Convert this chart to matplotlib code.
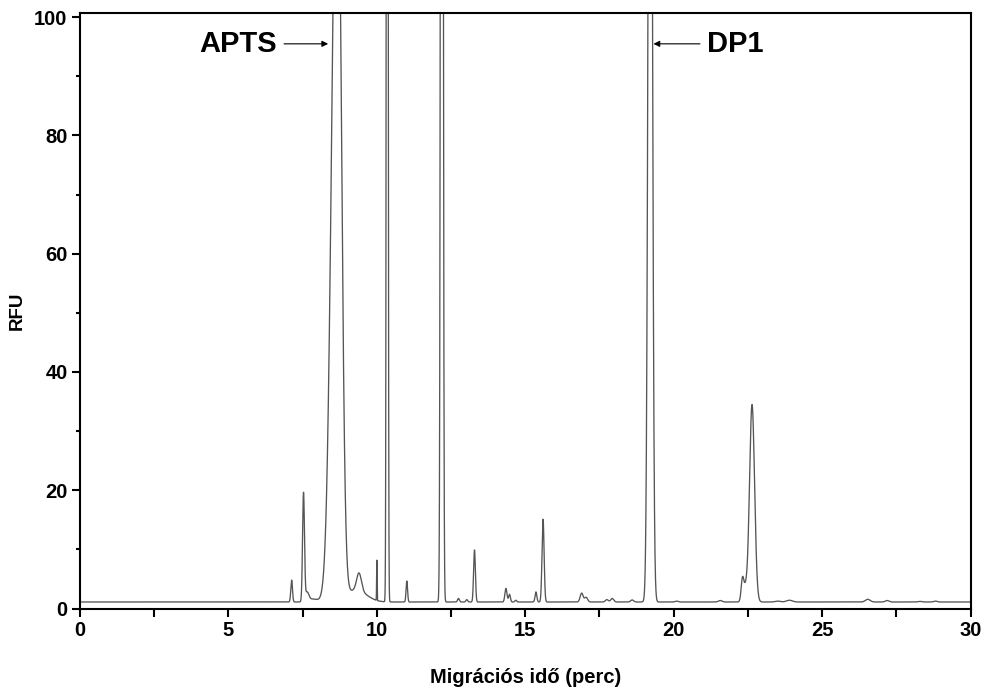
import matplotlib

matplotlib.use("Agg")
import matplotlib.pyplot as plt
import matplotlib.ticker as mtick
import numpy as np

# peak table (minutes, RFU above baseline, sigma left/right in minutes)
peak_time = [7.13, 7.53, 7.65, 7.85, 8.67, 9.30, 9.40, 10.00, 10.35, 11.01,
             12.19, 12.75, 13.03, 13.29, 14.35, 14.47, 14.68, 15.36, 15.60, 16.90,
             17.05, 17.75, 17.93, 18.60, 19.21, 20.10, 21.57, 22.32, 22.42, 22.64,
             23.50, 23.90, 26.54, 27.19, 28.30, 28.82]
peak_height = [3.7, 18.3, 1.5, 0.5, 140.0, 2.0, 3.0, 6.8, 400.0, 3.55,
               450.0, 0.6, 0.4, 8.8, 2.3, 1.3, 0.3, 1.7, 14.0, 1.5,
               0.8, 0.4, 0.6, 0.35, 214.0, 0.15, 0.25, 4.0, 2.0, 33.4,
               0.15, 0.3, 0.45, 0.25, 0.1, 0.15]
sigma_left = [0.028, 0.032, 0.06, 0.15, 0.18, 0.35, 0.08, 0.008, 0.022, 0.025,
              0.032, 0.03, 0.03, 0.03, 0.035, 0.03, 0.03, 0.03, 0.035, 0.05,
              0.05, 0.05, 0.05, 0.05, 0.063, 0.05, 0.06, 0.045, 0.05, 0.085,
              0.08, 0.1, 0.08, 0.06, 0.06, 0.06]
sigma_right = [0.028, 0.032, 0.06, 0.15, 0.13, 0.35, 0.08, 0.008, 0.022, 0.025,
               0.032, 0.03, 0.03, 0.03, 0.035, 0.03, 0.03, 0.03, 0.035, 0.05,
               0.05, 0.05, 0.05, 0.05, 0.063, 0.05, 0.06, 0.045, 0.05, 0.085,
               0.08, 0.1, 0.08, 0.06, 0.06, 0.06]
baseline = 1.1

labels = ["APTS", "DP1"]
label_y = 95.5

FONT = "Liberation Sans"

t = np.linspace(0, 30, 30001)
signal = np.full_like(t, baseline)
for pos, h, sl, sr in zip(peak_time, peak_height, sigma_left, sigma_right):
    s = np.where(t < pos, sl, sr)
    signal += h * np.exp(-0.5 * ((t - pos) / s) ** 2)

fig = plt.figure(figsize=(9.84, 6.89), dpi=100)
ax = fig.add_axes([80 / 984, 80.5 / 689, 890.5 / 984, 596 / 689])
ax.plot(t, signal, color="#555555", linewidth=0.95)

ax.set_xlim(0, 30)
ax.set_ylim(0, 100.8)
ax.xaxis.set_major_locator(mtick.MultipleLocator(5))
ax.xaxis.set_minor_locator(mtick.MultipleLocator(2.5))
ax.yaxis.set_major_locator(mtick.MultipleLocator(20))
ax.yaxis.set_minor_locator(mtick.MultipleLocator(10))
ax.tick_params(axis="both", which="major", direction="out", length=6, width=1.5, pad=3)
ax.tick_params(axis="x", which="minor", direction="out", length=6, width=1.5)
ax.tick_params(axis="y", which="minor", direction="out", length=3.2, width=1.5)
for lab in ax.get_xticklabels() + ax.get_yticklabels():
    lab.set_fontfamily(FONT)
    lab.set_fontweight("bold")
    lab.set_fontsize(14.5)
for spine in ax.spines.values():
    spine.set_linewidth(1.5)

ax.set_xlabel("Migrációs idő (perc)", fontfamily=FONT, fontweight="bold", fontsize=14.5, labelpad=20)
ax.set_ylabel("RFU", fontfamily=FONT, fontweight="bold", fontsize=13.5, labelpad=6)

arrow = dict(arrowstyle="-|>", color="black", lw=0.8, shrinkA=3, shrinkB=0, mutation_scale=9)
ax.annotate(labels[0], xy=(8.36, label_y), xytext=(6.64, label_y), ha="right", va="center",
            fontfamily=FONT, fontweight="bold", fontsize=21, arrowprops=arrow)
ax.annotate(labels[1], xy=(19.32, label_y), xytext=(21.12, label_y), ha="left", va="center",
            fontfamily=FONT, fontweight="bold", fontsize=21, arrowprops=arrow)

fig.savefig("out.png", dpi=100)
